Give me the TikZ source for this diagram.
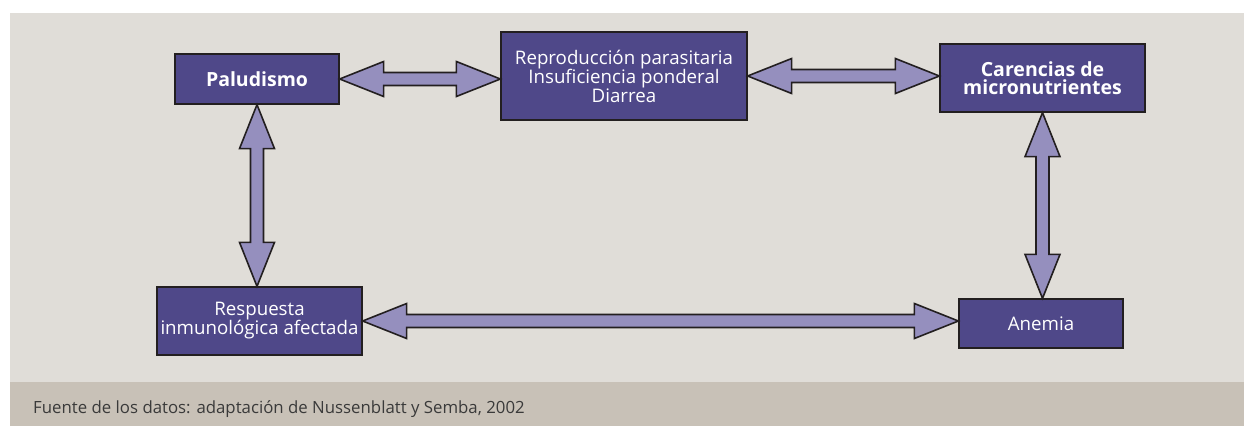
\documentclass[tikz,border=0pt]{standalone}
\usepackage{fontspec}
\setmainfont{Open Sans}
\usetikzlibrary{positioning,calc}

\definecolor{fondo}{HTML}{E0DDD8}
\definecolor{banda}{HTML}{C8C1B7}
\definecolor{caja}{HTML}{4F4889}
\definecolor{flecha}{HTML}{958FBE}
\definecolor{borde}{HTML}{231F20}
\definecolor{nota}{HTML}{3A3A3A}

\begin{document}
\begin{tikzpicture}[x=1pt, y=-1pt
			,c/.style={draw=borde, fill=caja, text=white, line width=1.3pt, inner sep=0pt, align=center, font=\fontsize{18.7}{19}\selectfont}
			,n/.style={font=\bfseries\fontsize{19.5}{18.5}\selectfont}
			,f/.style={draw=borde, fill=flecha, line width=1.6pt, line join=miter}
		]
			% fondo
			\useasboundingbox (0,0) rectangle (1244,426);
			\fill[white] (0,0) rectangle (1244,426);
			\fill[fondo] (10,13) rectangle (1244,382);
			\fill[banda] (10,382) rectangle (1244,426);

			% cajas
			\node [c, n, minimum width=164pt, minimum height=50pt] (P) at (257,79) {Paludismo};
			\node [c, minimum width=246pt, minimum height=88pt] (R) at (624,76) {Reproducción parasitaria\\Insuficiencia ponderal\\Diarrea};
			\node [c, n, minimum width=205pt, minimum height=68pt] (C) at (1042.5,78) {Carencias de\\micronutrientes};
			\node [c, minimum width=205pt, minimum height=68pt] (I) at (259.5,321) {Respuesta\\inmunológica afectada};
			\node [c, minimum width=164pt, minimum height=49pt] (A) at (1041,323.5) {Anemia};

			% flechas horizontales
			\draw [f] (P.east) -- ++(44,-17.5) -- ++(0,11) -- ($(R.west |- P.east)+(-44,-6.5)$) -- ++(0,-11) -- (R.west |- P.east) -- ++(-44,17.5) -- ++(0,-11) -- ($(P.east)+(44,6.5)$) -- ++(0,11) -- cycle;
			\draw [f] (R.east) -- ++(44,-17.5) -- ++(0,11) -- ($(C.west |- R.east)+(-44,-6.5)$) -- ++(0,-11) -- (C.west |- R.east) -- ++(-44,17.5) -- ++(0,-11) -- ($(R.east)+(44,6.5)$) -- ++(0,11) -- cycle;
			\draw [f] (I.east) -- ++(44,-17.5) -- ++(0,11) -- ($(A.west |- I.east)+(-44,-6.5)$) -- ++(0,-11) -- (A.west |- I.east) -- ++(-44,17.5) -- ++(0,-11) -- ($(I.east)+(44,6.5)$) -- ++(0,11) -- cycle;

			% flechas verticales
			\draw [f] (P.south) -- ++(-17.5,44) -- ++(11,0) -- ($(I.north -| P.south)+(-6.5,-44)$) -- ++(-11,0) -- (I.north -| P.south) -- ++(17.5,-44) -- ++(-11,0) -- ($(P.south)+(6.5,44)$) -- ++(11,0) -- cycle;
			\draw [f] (C.south) -- ++(-17.5,44) -- ++(11,0) -- ($(A.north -| C.south)+(-6.5,-44)$) -- ++(-11,0) -- (A.north -| C.south) -- ++(17.5,-44) -- ++(-11,0) -- ($(C.south)+(6.5,44)$) -- ++(11,0) -- cycle;

			% fuente
			\node [anchor=west, text=nota, inner sep=0pt, font=\fontsize{16.8}{18}\selectfont] (F) at (33,409) {Fuente de los datos: adaptación de Nussenblatt y Semba, 2002};
		\end{tikzpicture}
\end{document}
